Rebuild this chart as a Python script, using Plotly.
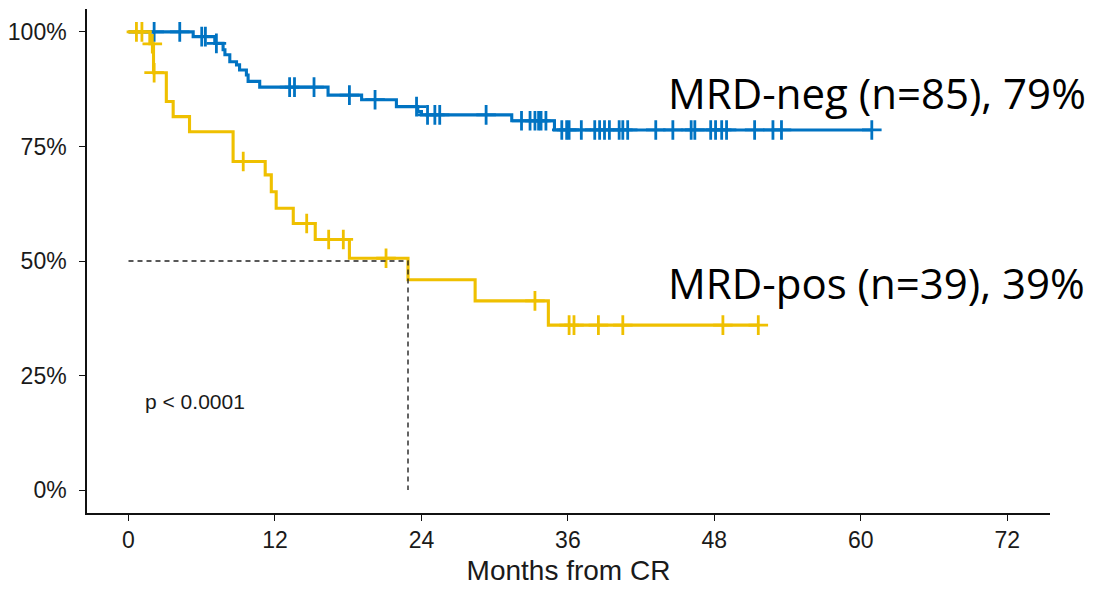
import numpy as np
import plotly.graph_objects as go

# ---------------- data ----------------
# MRD-negative group (n=85): event times (months) and survival (%) after each step
neg_times = [0, 5.3, 7.07, 7.75, 7.9, 8.3, 8.85, 9.1, 9.66, 9.8, 10.75,
             16.35, 19.1, 21.95, 23.7, 24.0, 31.4, 34.9]
neg_surv = [100, 98.97, 97.5, 96.1, 95.0, 93.5, 92.8, 91.7, 90.6, 89.2, 87.95,
            86.2, 85.2, 83.7, 82.6, 81.9, 80.6, 78.6]
neg_end = 60.9
neg_censor = [2.1, 4.2, 6.0, 6.3, 7.2, 13.2, 13.6, 15.2, 18.1, 20.2, 23.6,
              24.5, 25.1, 25.5, 29.3, 32.2, 32.9, 33.3, 33.6, 33.8, 34.2,
              35.5, 35.9, 36.1, 37.1, 38.2, 38.6, 39.0, 39.4, 40.2, 40.5,
              40.9, 43.2, 44.6, 46.1, 46.4, 47.7, 48.1, 48.6, 49.0, 51.3,
              52.8, 53.5, 60.9]

# MRD-positive group (n=39)
pos_times = [0, 1.75, 2.05, 3.1, 3.66, 5.0, 8.57, 11.2, 11.7, 12.1, 13.5,
             15.3, 18.1, 22.9, 28.4, 34.4]
pos_surv = [100, 97.4, 91.1, 84.8, 81.5, 78.2, 71.7, 68.8, 65.1, 61.5, 58.2,
            54.7, 50.6, 45.9, 41.3, 36.0]
pos_end = 51.6
pos_censor = [0.65, 1.1, 1.95, 2.1, 9.4, 14.6, 16.4, 17.6, 21.1, 33.3, 36.1,
              36.5, 38.5, 40.5, 48.7, 51.6]

median_pos = 22.9
x_ticks = [0, 12, 24, 36, 48, 60, 72]
y_ticks = [0, 25, 50, 75, 100]
y_tick_labels = ["0%", "25%", "50%", "75%", "100%"]
label_neg = "MRD-neg (n=85), 79%"
label_pos = "MRD-pos (n=39), 39%"
p_text = "p < 0.0001"
x_title = "Months from CR"

BLUE = "#0073C2"
YELLOW = "#EFC000"


def step_value(times, surv, t):
    idx = int(np.searchsorted(np.array(times), t, side="right")) - 1
    return surv[idx]


fig = go.Figure()

for times, surv, end, cens, col in [
    (neg_times, neg_surv, neg_end, neg_censor, BLUE),
    (pos_times, pos_surv, pos_end, pos_censor, YELLOW),
]:
    xs = list(times) + [end]
    ys = list(surv) + [surv[-1]]
    fig.add_trace(go.Scatter(x=xs, y=ys, mode="lines",
                             line=dict(color=col, width=3.1, shape="hv"),
                             hoverinfo="skip", showlegend=False))
    fig.add_trace(go.Scatter(x=cens, y=[step_value(times, surv, c) for c in cens],
                             mode="markers",
                             marker=dict(symbol="cross-thin", size=14,
                                         line=dict(color=col, width=2.8)),
                             hoverinfo="skip", showlegend=False))

# median survival line
fig.add_trace(go.Scatter(x=[0, median_pos, median_pos], y=[50, 50, 0],
                         mode="lines",
                         line=dict(color="#222222", width=1.4, dash="5px,4px"),
                         hoverinfo="skip", showlegend=False))

fig.add_annotation(x=1.2, y=19.4, xref="x", yref="y", text=p_text,
                   showarrow=False, xanchor="left", yanchor="middle",
                   font=dict(family="Liberation Sans, Arial", size=21, color="#1a1a1a"))
fig.add_annotation(x=44.0, y=86.7, xref="x", yref="y", text=label_neg,
                   showarrow=False, xanchor="left", yanchor="middle",
                   font=dict(family="Open Sans", size=42, color="#000000"))
fig.add_annotation(x=44.0, y=45.4, xref="x", yref="y", text=label_pos,
                   showarrow=False, xanchor="left", yanchor="middle",
                   font=dict(family="Open Sans", size=42, color="#000000"))

axis_common = dict(showgrid=False, zeroline=False, showline=True, automargin=False,
                   linecolor="#111111", linewidth=1.5, ticks="outside",
                   ticklen=6, tickwidth=1.3, tickcolor="#111111",
                   tickfont=dict(family="Liberation Sans, Arial", size=23, color="#1a1a1a"))

fig.update_xaxes(range=[-3.4, 75.5], tickvals=x_ticks,
                 title=dict(text=x_title, standoff=8,
                            font=dict(family="Liberation Sans, Arial", size=28, color="#1a1a1a")),
                 **axis_common)
fig.update_yaxes(range=[-5, 105], tickvals=y_ticks, ticktext=y_tick_labels,
                 ticklabelstandoff=8, **axis_common)

# the page body adds an 8px margin at left/top, so the figure is sized to fit
fig.update_layout(width=1089, height=584, plot_bgcolor="white", paper_bgcolor="white",
                  margin=dict(l=79, r=47, t=1, b=79), showlegend=False)

fig.write_html("out.html")
